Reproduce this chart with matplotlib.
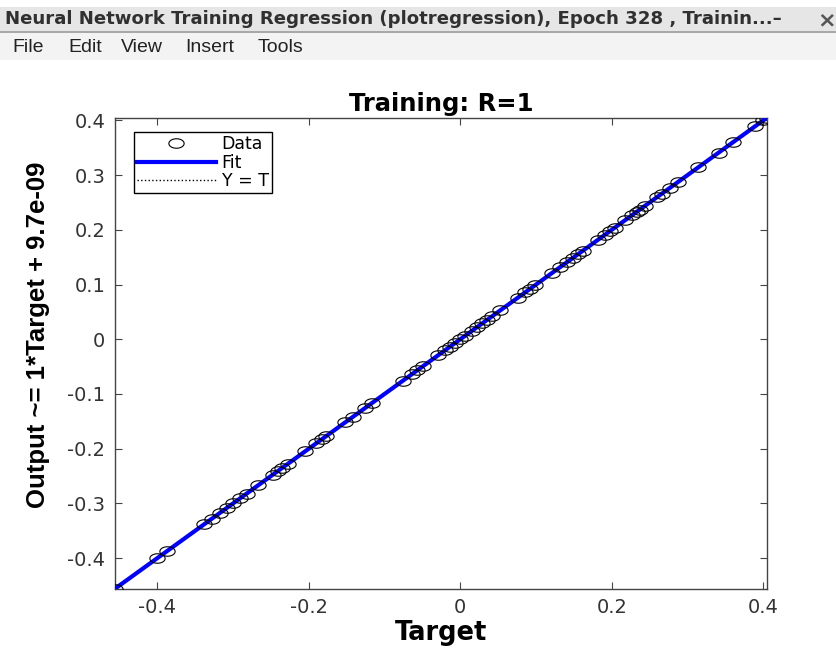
import numpy as np
import matplotlib
matplotlib.use('Agg')
import matplotlib.pyplot as plt
from matplotlib.path import Path
from matplotlib.patches import Rectangle

# targets (training set), outputs equal them since R=1
targets = [-0.456, -0.400, -0.387, -0.338, -0.328, -0.318, -0.308, -0.300, -0.291,
           -0.282, -0.267, -0.248, -0.241, -0.235, -0.228, -0.205, -0.190, -0.183,
           -0.177, -0.152, -0.142, -0.126, -0.117, -0.076, -0.064, -0.057, -0.049,
           -0.029, -0.020, -0.014, -0.007, 0.000, 0.006, 0.015, 0.022, 0.029, 0.035,
           0.042, 0.053, 0.076, 0.086, 0.092, 0.099, 0.121, 0.132, 0.141, 0.149,
           0.156, 0.162, 0.182, 0.191, 0.198, 0.204, 0.218, 0.227, 0.233, 0.237,
           0.244, 0.260, 0.266, 0.277, 0.288, 0.314, 0.341, 0.360, 0.389, 0.400, 0.405]
outputs = list(targets)
fit_slope = 1.0
fit_offset = 9.7e-09
ticks = [-0.4, -0.3, -0.2, -0.1, 0, 0.1, 0.2, 0.3, 0.4]
xticks = [-0.4, -0.2, 0, 0.2, 0.4]
menu_items = ['File', 'Edit', 'View', 'Insert', 'Tools']
menu_x = [12, 68, 121, 185, 258]

t = np.array(targets)
y = np.array(outputs)
lo, hi = min(t.min(), y.min()), max(t.max(), y.max())

fig = plt.figure(figsize=(8.36, 6.59), dpi=100)
fig.patch.set_facecolor('white')

# window chrome: title bar and menu bar
fig.patches.append(Rectangle((0, 1 - 32/659), 1, 25/659, transform=fig.transFigure,
                             facecolor='#e6e6e6', edgecolor='none'))
fig.patches.append(Rectangle((0, 1 - 33/659), 1, 2/659, transform=fig.transFigure,
                             facecolor='#a8a8a8', edgecolor='none'))
fig.patches.append(Rectangle((0, 1 - 60/659), 1, 27/659, transform=fig.transFigure,
                             facecolor='#f3f3f3', edgecolor='none'))
fig.text(5/836, 1 - 19/659, 'Neural Network Training Regression (plotregression), Epoch 328 , Trainin...\u2013',
         fontsize=13.1, fontweight='bold', color='#303030', va='center', ha='left',
         family=['DejaVu Sans'])
fig.text(827/836, 1 - 20/659, '\u00d7', fontsize=16, fontweight='bold', color='#555555',
         va='center', ha='center')
for name, mx in zip(menu_items, menu_x):
    fig.text(mx/836, 1 - 47/659, name, fontsize=14, color='#222222',
             va='center', ha='left', family=['Liberation Sans', 'DejaVu Sans'])

ax = fig.add_axes([115/836, 1 - 588.7/659, 652/836, 471/659])

ax.plot([lo, hi], [lo, hi], linestyle=':', color='black', linewidth=1, label='Y = T', zorder=2)
fx = np.array([lo, hi])
ax.plot(fx, fit_slope * fx + fit_offset, color='#0000ff', linewidth=3, label='Fit', zorder=3)

theta = np.linspace(0, 2 * np.pi, 40)
ellipse = Path(np.column_stack([np.cos(theta), 0.62 * np.sin(theta)]), closed=True)
ax.plot(t, y, linestyle='none', marker=ellipse, markersize=11, markerfacecolor='none',
        markeredgecolor='black', markeredgewidth=0.8, label='Data', zorder=4)

ax.set_xlim(lo, hi)
ax.set_ylim(lo, hi)
ax.set_xticks(xticks)
ax.set_yticks(ticks)
ax.set_xticklabels(['-0.4', '-0.2', '0', '0.2', '0.4'])
ax.set_yticklabels(['-0.4', '-0.3', '-0.2', '-0.1', '0', '0.1', '0.2', '0.3', '0.4'])
ax.tick_params(direction='in', length=5, width=0.8, top=True, right=True,
               labelsize=14, labelcolor='#333333', color='#444444', pad=7)
for s in ax.spines.values():
    s.set_color('#444444')
    s.set_linewidth(1)

ax.set_title('Training: R=1', fontsize=17.5, fontweight='bold', pad=5)
ax.set_xlabel('Target', fontsize=18.5, fontweight='bold', labelpad=2)
ax.set_ylabel('Output ~= 1*Target + 9.7e-09', fontsize=18.5, fontweight='bold',
              family=['Liberation Sans Narrow', 'Liberation Sans', 'DejaVu Sans'])
ax.yaxis.set_label_coords(-0.10, 0.539)

h, l = ax.get_legend_handles_labels()
order = [2, 1, 0]
leg = ax.legend([h[i] for i in order], [l[i] for i in order], loc='upper left',
                bbox_to_anchor=(0.029, 0.970), fontsize=12.5, fancybox=False,
                edgecolor='black', framealpha=1, borderpad=0.2, labelspacing=0.02,
                handlelength=4.5, handletextpad=0.35, borderaxespad=0)
leg.get_frame().set_linewidth(1)

fig.savefig('out.png', dpi=100)
